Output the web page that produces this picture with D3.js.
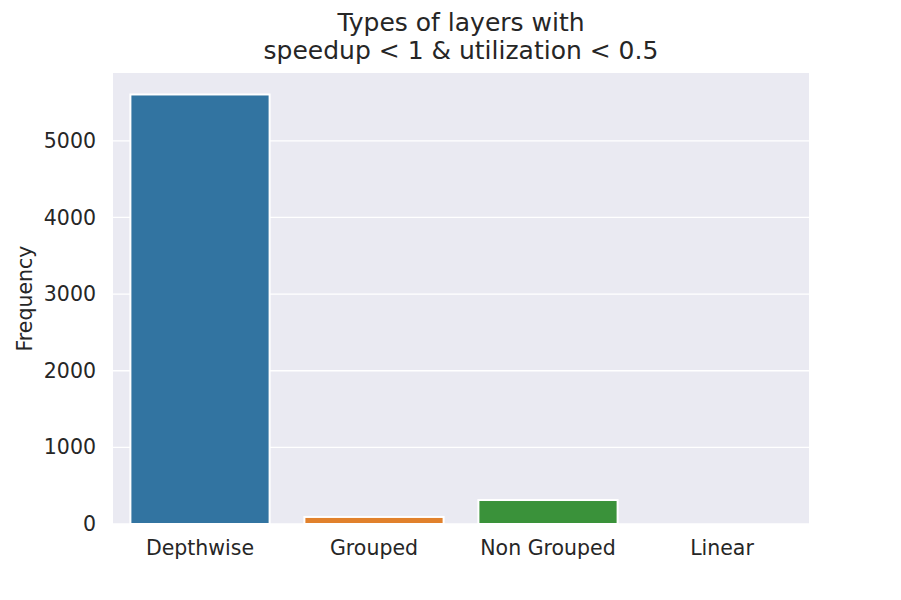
<!DOCTYPE html>
<html>
<head>
<meta charset="utf-8">
<script src="https://cdn.jsdelivr.net/npm/d3@7/dist/d3.min.js"></script>
<style>
  body { margin: 0; background: #fff; }
  svg { display: block; }
  text { font-family: "DejaVu Sans", sans-serif; fill: #262626; }
</style>
</head>
<body>
<svg id="chart" width="901" height="600"></svg>
<script>
const categories = ["Depthwise", "Grouped", "Non Grouped", "Linear"];
const frequencies = [5605, 92, 313, 0];
const colors = ["#3274a1", "#e1812c", "#3a923a", "#c03d3e"];
const yTicks = [0, 1000, 2000, 3000, 4000, 5000];
const titleLines = ["Types of layers with", "speedup < 1 & utilization < 0.5"];
const yLabel = "Frequency";

const svg = d3.select("#chart");
const m = { left: 113, right: 901 - 809, top: 73, bottom: 600 - 524 };
const W = 901 - m.left - m.right, H = 600 - m.top - m.bottom;

const x = d3.scaleBand().domain(categories).range([0, W]).paddingInner(0.2).paddingOuter(0.1);
const y = d3.scaleLinear().domain([0, d3.max(frequencies) * 1.05]).range([H, 0]);

const g = svg.append("g").attr("transform", `translate(${m.left},${m.top})`);
g.append("rect").attr("width", W).attr("height", H).attr("fill", "#eaeaf2");

g.selectAll(".grid").data(yTicks).join("line")
  .attr("x1", 0).attr("x2", W)
  .attr("y1", d => y(d)).attr("y2", d => y(d))
  .attr("stroke", "#fff").attr("stroke-width", 1.3);

g.selectAll(".bar").data(categories.filter((d, i) => frequencies[i] > 0)).join("rect")
  .attr("x", d => x(d))
  .attr("width", x.bandwidth())
  .attr("y", d => y(frequencies[categories.indexOf(d)]))
  .attr("height", d => H - y(frequencies[categories.indexOf(d)]))
  .attr("fill", d => colors[categories.indexOf(d)])
  .attr("stroke", "#fff").attr("stroke-width", 2);

const yAxis = d3.axisLeft(y).tickValues(yTicks).tickSize(0).tickPadding(17).tickFormat(d3.format("d"));
const ya = g.append("g").call(yAxis);
ya.select(".domain").remove();
ya.selectAll("text").attr("font-size", 20.5).attr("fill", "#262626").style("font-family", "DejaVu Sans");

const xAxis = d3.axisBottom(x).tickSize(0).tickPadding(16);
const xa = g.append("g").attr("transform", `translate(0,${H})`).call(xAxis);
xa.select(".domain").remove();
xa.selectAll("text").attr("font-size", 20.5).attr("fill", "#262626").style("font-family", "DejaVu Sans");

svg.append("text")
  .attr("transform", `translate(32,${m.top + H / 2}) rotate(-90)`)
  .attr("text-anchor", "middle").attr("font-size", 20.5).text(yLabel);

svg.append("text").attr("text-anchor", "middle").attr("font-size", 25)
  .selectAll("tspan").data(titleLines).join("tspan")
  .attr("x", m.left + W / 2).attr("y", (d, i) => 31 + i * 27.5).text(d => d);
</script>
</body>
</html>
